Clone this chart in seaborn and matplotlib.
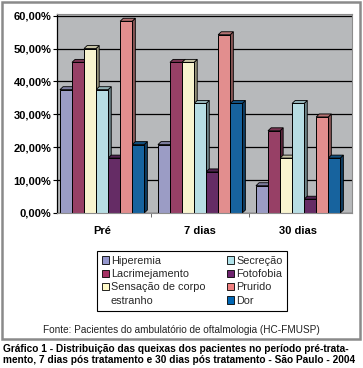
import numpy as np
import pandas as pd
import matplotlib
matplotlib.use("Agg")
import matplotlib.pyplot as plt
from matplotlib.patches import Patch, Polygon, Rectangle
from matplotlib.ticker import FuncFormatter, MultipleLocator, FixedLocator
import seaborn as sns

# data (percent of patients)
periods = ["Pré", "7 dias", "30 dias"]
hiperemia = [37.5, 20.8, 8.3]
lacrimejamento = [45.8, 45.8, 25.0]
sensacao = [50.0, 45.8, 16.7]
secrecao = [37.5, 33.3, 33.3]
fotofobia = [16.7, 12.5, 4.2]
prurido = [58.3, 54.2, 29.2]
dor = [20.8, 33.3, 16.7]

series_names = ["Hiperemia", "Lacrimejamento", "Sensação de corpo estranho",
                "Secreção", "Fotofobia", "Prurido", "Dor"]
series_values = [hiperemia, lacrimejamento, sensacao, secrecao, fotofobia, prurido, dor]
colors = ["#9496CC", "#A53264", "#FFFAC8", "#B0E2EA", "#6E236E", "#F08080", "#0066B4"]

rows = []
for name, vals in zip(series_names, series_values):
    for p, v in zip(periods, vals):
        rows.append({"periodo": p, "queixa": name, "valor": v})
df = pd.DataFrame(rows)

sns.set_theme(style="white")
plt.rcParams["font.family"] = ["Liberation Sans", "DejaVu Sans"]

fig = plt.figure(figsize=(3.63, 3.68), dpi=100)
ax = fig.add_axes([57 / 363, 1 - 213 / 368, 295 / 363, 199 / 368])
ax.set_facecolor("#B7B9BB")

sns.barplot(data=df, x="periodo", y="valor", hue="queixa", order=periods,
            hue_order=series_names, palette=colors, width=0.86, gap=0,
            edgecolor="black", linewidth=0.7, legend=False, ax=ax, zorder=2)

# fake 3D side faces and caps derived from the bars
dx, dy = 0.032, 0.9
for patch in list(ax.patches):
    h = patch.get_height()
    if h <= 0:
        continue
    x0 = patch.get_x()
    x1 = x0 + patch.get_width()
    fc = np.array(patch.get_facecolor())
    side = fc.copy()
    side[:3] *= 0.6
    top = fc.copy()
    top[:3] *= 0.8
    ax.add_patch(Polygon([(x1, 0), (x1 + dx, dy), (x1 + dx, h + dy), (x1, h)],
                         closed=True, facecolor=side, edgecolor="black",
                         linewidth=0.6, zorder=1.5))
    ax.add_patch(Polygon([(x0, h), (x0 + dx, h + dy), (x1 + dx, h + dy), (x1, h)],
                         closed=True, facecolor=top, edgecolor="black",
                         linewidth=0.6, zorder=1.5))

ax.set_xlim(-0.46, 2.55)
ax.set_ylim(0, 60.5)
ax.yaxis.set_major_locator(MultipleLocator(10))
ax.yaxis.set_major_formatter(FuncFormatter(lambda v, _: f"{v:.2f}%".replace(".", ",")))
ax.grid(axis="y", color="black", linewidth=0.9)
ax.grid(axis="x", visible=False)
ax.set_axisbelow(True)

ax.set_xlabel("")
ax.set_ylabel("")
ax.xaxis.set_minor_locator(FixedLocator([0.5, 1.5]))
ax.tick_params(axis="y", which="major", left=True, length=3, width=0.8, color="black",
               labelsize=8, pad=1)
ax.tick_params(axis="x", which="major", bottom=False, labelsize=8, pad=3)
ax.tick_params(axis="x", which="minor", bottom=True, length=3, width=0.6, color="#555555")
for lab in ax.get_yticklabels() + ax.get_xticklabels():
    lab.set_fontweight("bold")
    lab.set_color("black")

for s in ["top", "right", "bottom"]:
    ax.spines[s].set_color("#8C8C8C")
    ax.spines[s].set_linewidth(0.8)
ax.spines["left"].set_color("black")
ax.spines["left"].set_linewidth(0.9)

# legend: column-wise, with the long label split over two rows
blank = Patch(facecolor="none", edgecolor="none")
h = [Patch(facecolor=c, edgecolor="black", linewidth=0.6) for c in colors]
handles = [h[0], h[1], h[2], blank, h[3], h[4], h[5], h[6]]
labels = ["Hiperemia", "Lacrimejamento", "Sensação de corpo", "estranho",
          "Secreção", "Fotofobia", "Prurido", "Dor"]
leg = fig.legend(handles, labels, ncol=2, loc="upper center",
                 bbox_to_anchor=(192 / 363, 1 - 251 / 368), fontsize=7.8,
                 frameon=True, fancybox=False, framealpha=1, edgecolor="black",
                 handlelength=0.7, handleheight=0.7, handletextpad=0.15,
                 columnspacing=2.0, labelspacing=0.3, borderpad=0.45,
                 borderaxespad=0)
leg.get_frame().set_linewidth(0.8)

fig.text(181 / 363, 1 - 330 / 368,
         "Fonte: Pacientes do ambulatório de oftalmologia (HC-FMUSP)",
         ha="center", va="center", fontsize=7.2, color="#222222")

fig.add_artist(Rectangle((2 / 363, 1 - 339 / 368), 358 / 363, 337 / 368,
                         transform=fig.transFigure, fill=False,
                         edgecolor="#8A8A8A", linewidth=1.8))

fig.text(3 / 363, 1 - 349.5 / 368,
         "Gráfico 1 - Distribuição das queixas dos pacientes no período pré-trata-",
         ha="left", va="center", fontsize=7.3, fontweight="bold", color="black")
fig.text(3 / 363, 1 - 360 / 368,
         "mento, 7 dias pós tratamento e 30 dias pós tratamento - São Paulo - 2004",
         ha="left", va="center", fontsize=7.3, fontweight="bold", color="black")

fig.savefig("out.png", dpi=100)
